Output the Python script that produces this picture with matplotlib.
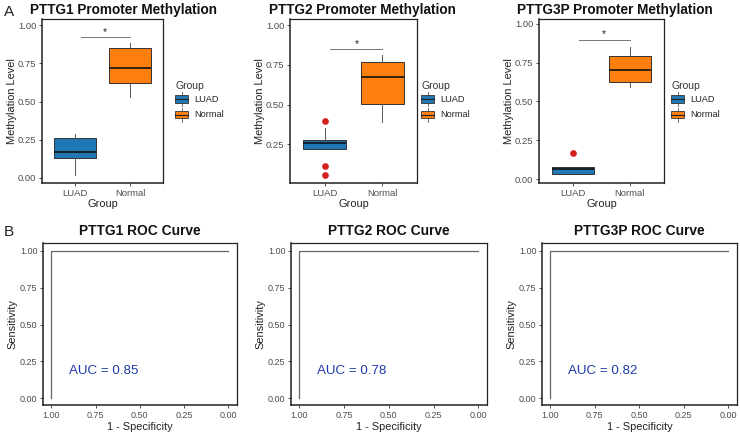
import matplotlib
matplotlib.use('Agg')
import matplotlib.pyplot as plt
from matplotlib.patches import Rectangle
from matplotlib.lines import Line2D
from matplotlib.legend_handler import HandlerBase

plt.rcParams['font.family'] = ['Liberation Sans', 'DejaVu Sans']

# ---------------- data ----------------
groups = ['LUAD', 'Normal']
genes = ['PTTG1', 'PTTG2', 'PTTG3P']
group_colors = ['#1f77b4', '#ff7f0e']

# box statistics: whislo, q1, median, q3, whishi
pttg1_luad = [0.02, 0.13, 0.17, 0.26, 0.285]
pttg1_normal = [0.53, 0.62, 0.72, 0.85, 0.88]
pttg2_luad = [0.22, 0.22, 0.26, 0.28, 0.35]
pttg2_normal = [0.39, 0.505, 0.675, 0.77, 0.81]
pttg3p_luad = [0.035, 0.035, 0.064, 0.082, 0.082]
pttg3p_normal = [0.595, 0.625, 0.705, 0.795, 0.85]

pttg1_outliers = [[], []]
pttg2_outliers = [[0.40, 0.115, 0.058], []]
pttg3p_outliers = [[0.17], []]

sig_level = [0.92, 0.85, 0.895]
methyl_yticks = [[0.0, 0.25, 0.5, 0.75, 1.0],
                 [0.25, 0.5, 0.75, 1.0],
                 [0.0, 0.25, 0.5, 0.75, 1.0]]
methyl_ylims = [(-0.033, 1.04), (0.006, 1.04), (-0.024, 1.03)]

auc_values = [0.85, 0.78, 0.82]
roc_specificity = [1.0, 1.0, 0.0]
roc_sensitivity = [0.0, 1.0, 1.0]
roc_ticks = [0.0, 0.25, 0.5, 0.75, 1.0]

box_stats = [(pttg1_luad, pttg1_normal, pttg1_outliers),
             (pttg2_luad, pttg2_normal, pttg2_outliers),
             (pttg3p_luad, pttg3p_normal, pttg3p_outliers)]

# ---------------- layout ----------------
W, H = 740, 437
fig = plt.figure(figsize=(W / 100, H / 100), dpi=100)
fig.patch.set_facecolor('white')


def add_ax(l, t, r, b):
    return fig.add_axes([l / W, 1 - b / H, (r - l) / W, (b - t) / H])


def fx(px):
    return px / W


def fy(py):
    return 1 - py / H


TICK_COL = '#4d4d4d'
rowA = [(42, 19, 163, 183), (290, 19, 417, 183), (539, 19, 664, 183)]
rowB = [(43, 243, 237, 405), (291, 243, 487, 405), (542, 243, 737, 405)]
titleA_x = [124, 362, 615]
legend_x = [175, 421, 671]


class BoxHandler(HandlerBase):
    def __init__(self, color):
        super().__init__()
        self.color = color

    def create_artists(self, legend, orig_handle, xdescent, ydescent,
                       width, height, fontsize, trans):
        bh = height * 0.56
        y0 = -ydescent + (height - bh) / 2
        cx = -xdescent + width / 2
        rect = Rectangle((-xdescent, y0), width, bh, facecolor=self.color,
                         edgecolor='#333333', lw=0.6, transform=trans)
        med = Line2D([-xdescent, -xdescent + width], [y0 + bh / 2] * 2,
                     color='#222222', lw=0.8, transform=trans)
        w1 = Line2D([cx, cx], [-ydescent, y0], color='#555555', lw=0.6,
                    transform=trans)
        w2 = Line2D([cx, cx], [y0 + bh, -ydescent + height], color='#555555',
                    lw=0.6, transform=trans)
        return [w1, w2, rect, med]


def style_axes(ax, labelsize):
    for s in ax.spines.values():
        s.set_color('#222222')
        s.set_linewidth(0.9)
    ax.spines['left'].set_linewidth(1.1)
    ax.spines['bottom'].set_linewidth(1.1)
    ax.tick_params(axis='both', length=2.5, width=0.6, color='#333333',
                   labelcolor=TICK_COL, labelsize=labelsize, pad=1.5)


# ---------------- Row A: box plots ----------------
for i, (gene, (luad, normal, outl)) in enumerate(zip(genes, box_stats)):
    l, t, r, b = rowA[i]
    ax = add_ax(l, t, r, b)
    stats = []
    for g, s, o in zip(groups, (luad, normal), outl):
        stats.append(dict(label=g, whislo=s[0], q1=s[1], med=s[2], q3=s[3],
                          whishi=s[4], fliers=o))
    bp = ax.bxp(stats, positions=[1, 2], widths=0.75, patch_artist=True,
                showcaps=False,
                boxprops=dict(edgecolor='#333333', linewidth=0.7),
                whiskerprops=dict(color='#555555', linewidth=0.7),
                medianprops=dict(color='#111111', linewidth=1.2),
                flierprops=dict(marker='o', markerfacecolor='#d42020',
                                markeredgecolor='#d42020', markersize=3.8))
    for patch, c in zip(bp['boxes'], group_colors):
        patch.set_facecolor(c)
    ax.set_xlim(0.4, 2.6)
    ax.set_ylim(*methyl_ylims[i])
    ax.set_yticks(methyl_yticks[i])
    ax.set_yticklabels(['%.2f' % v for v in methyl_yticks[i]])
    ax.set_xticks([1, 2])
    ax.set_xticklabels(groups)
    style_axes(ax, 6.8)
    # significance bar
    ax.plot([1.1, 2.0], [sig_level[i]] * 2, color='#777777', lw=0.7)
    ax.text(1.55, sig_level[i] + 0.003, '*', ha='center', va='bottom',
            fontsize=7.5, color='#222222')
    ax.set_xlabel('Group', fontsize=7.9, color='#222222')
    ax.set_ylabel('Methylation Level', fontsize=7.9, color='#222222')
    ax.xaxis.label.set_va('center')
    ax.yaxis.label.set_va('center')
    ax.xaxis.set_label_coords(0.5, -21 / (b - t))
    ax.yaxis.set_label_coords(-30 / (r - l), 0.5)
    fig.text(fx(titleA_x[i]), fy(10), f'{gene} Promoter Methylation',
             ha='center', va='center', fontsize=9.8, fontweight='bold',
             color='#111111')
    handles = [Rectangle((0, 0), 1, 1) for _ in groups]
    leg = ax.legend(handles, groups, title='Group',
                    handler_map={h: BoxHandler(c) for h, c in zip(handles, group_colors)},
                    loc='upper left',
                    bbox_to_anchor=(fx(legend_x[i]), fy(81)),
                    bbox_transform=fig.transFigure, frameon=False,
                    fontsize=6.6, title_fontsize=7.5, borderpad=0,
                    borderaxespad=0, handlelength=1.45, handleheight=1.97,
                    handletextpad=0.6, labelspacing=0.14, alignment='left')
    for txt in leg.get_texts():
        txt.set_color('#222222')
    leg.get_title().set_color('#333333')

# ---------------- Row B: ROC curves ----------------
for i, gene in enumerate(genes):
    l, t, r, b = rowB[i]
    ax = add_ax(l, t, r, b)
    ax.plot(roc_specificity, roc_sensitivity, color='#666666', lw=0.9)
    ax.set_xlim(1.047, -0.049)
    ax.set_ylim(-0.045, 1.052)
    ax.set_xticks(roc_ticks)
    ax.set_yticks(roc_ticks)
    ax.set_xticklabels(['%.2f' % v for v in roc_ticks])
    ax.set_yticklabels(['%.2f' % v for v in roc_ticks])
    style_axes(ax, 6.5)
    ax.text(0.90, 0.185, f'AUC = {auc_values[i]:.2f}', ha='left',
            va='center', fontsize=9.6, color='#1d3aa8')
    ax.set_xlabel('1 - Specificity', fontsize=7.9, color='#222222')
    ax.set_ylabel('Sensitivity', fontsize=7.9, color='#222222')
    ax.xaxis.label.set_va('center')
    ax.yaxis.label.set_va('center')
    ax.xaxis.set_label_coords(0.5, -22 / (b - t))
    ax.yaxis.set_label_coords(-31 / (r - l), 0.5)
    ax.text(0.5, 1 + 11.5 / (b - t), f'{gene} ROC Curve',
            transform=ax.transAxes, ha='center', va='center',
            fontsize=9.9, fontweight='bold', color='#111111')

fig.text(fx(9), fy(12), 'A', ha='center', va='center', fontsize=11,
         color='#222222')
fig.text(fx(9), fy(232), 'B', ha='center', va='center', fontsize=11,
         color='#222222')

fig.savefig('out.png', dpi=100, facecolor='white')
